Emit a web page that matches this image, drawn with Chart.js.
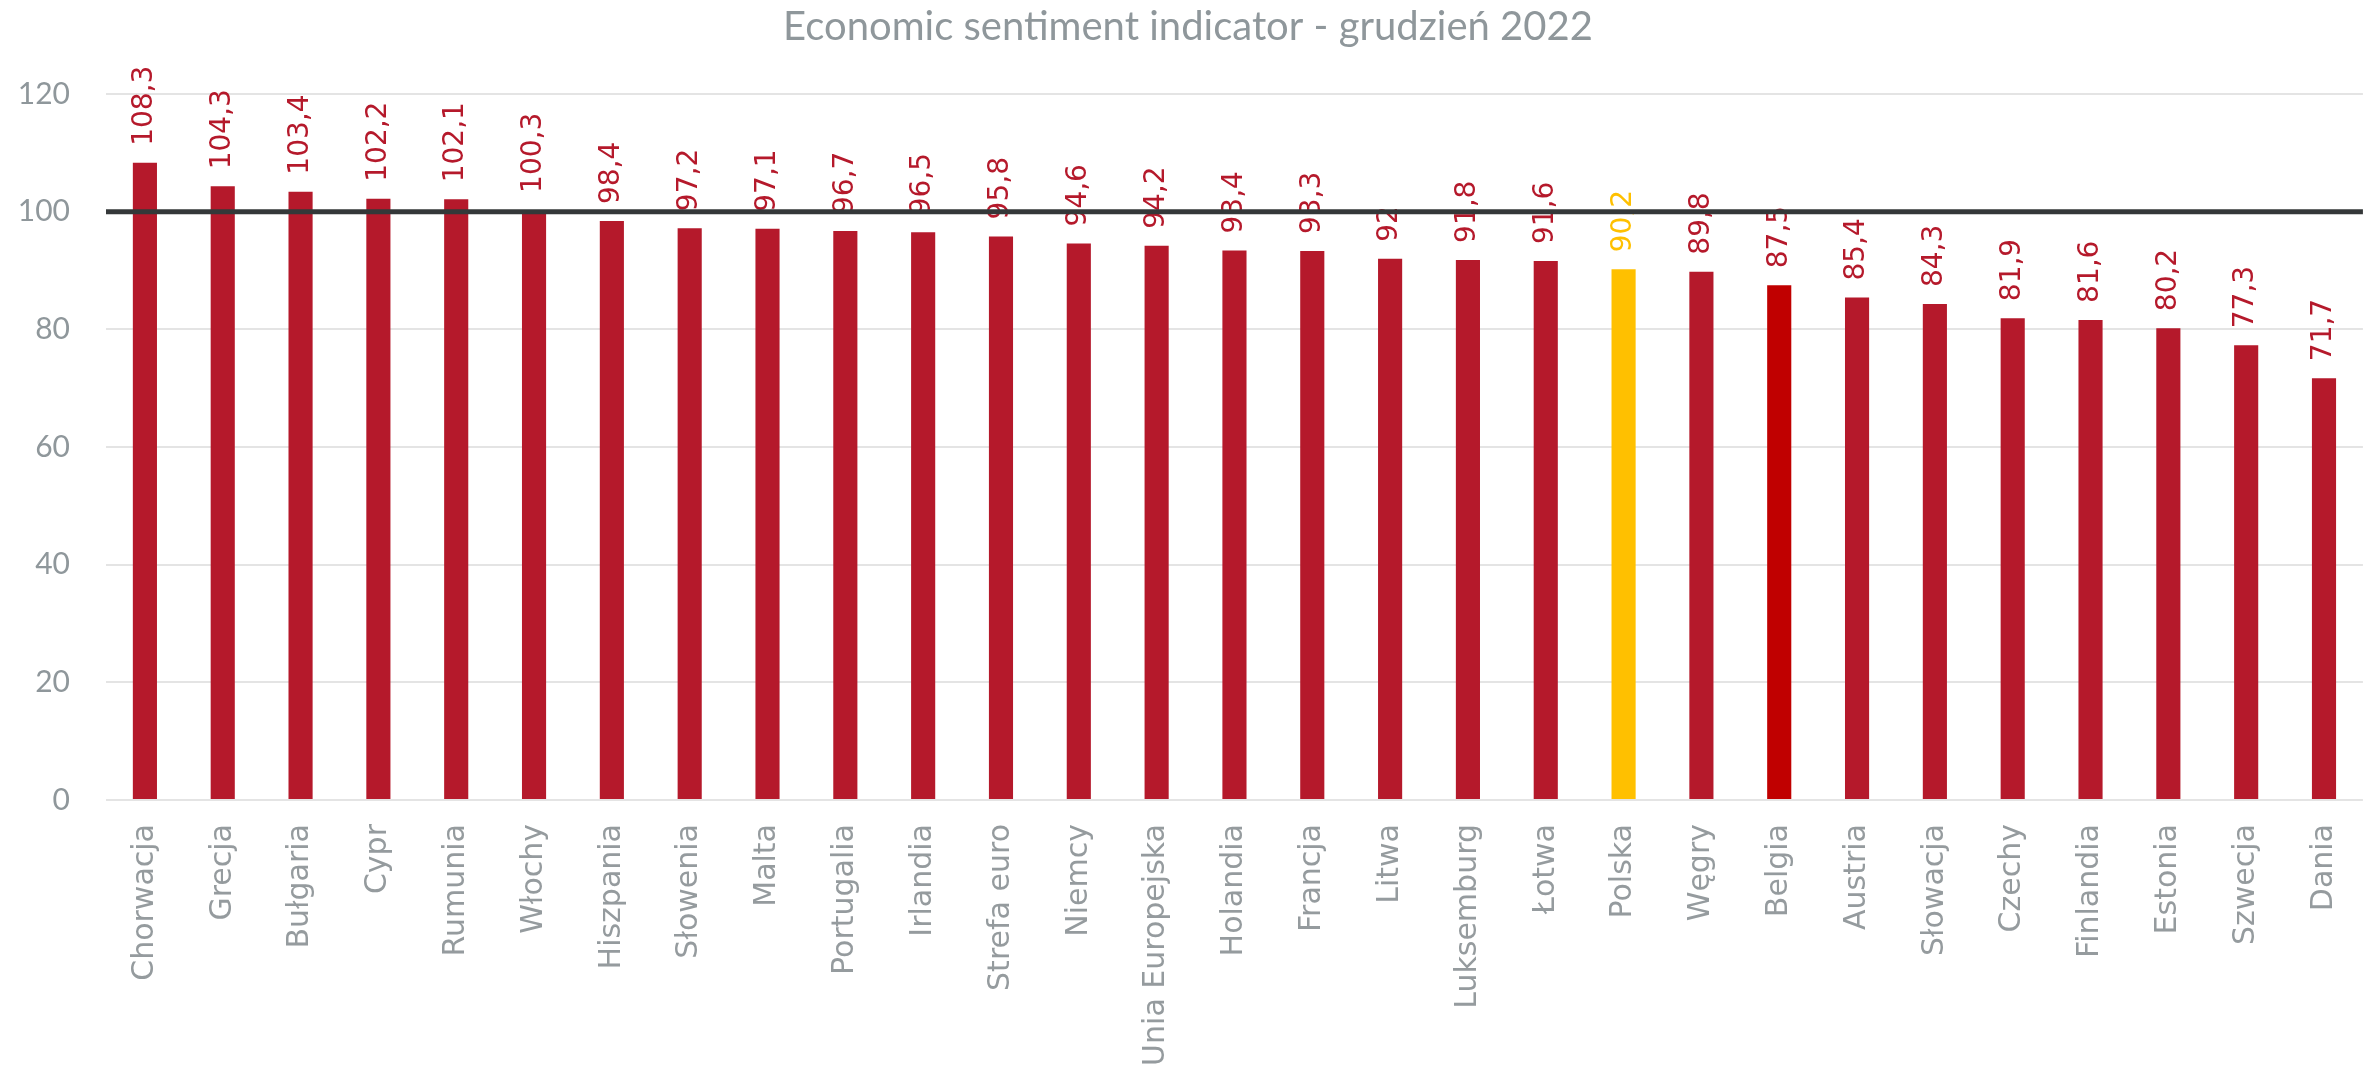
<!DOCTYPE html>
<html>
<head>
<meta charset="utf-8">
<script src="https://cdn.jsdelivr.net/npm/chart.js@4/dist/chart.umd.min.js"></script>
<style>
  html, body { margin: 0; padding: 0; background: #fff; }
  #wrap { width: 2376px; height: 1069px; }
</style>
</head>
<body>
<div id="wrap"><canvas id="esi"></canvas></div>
<script>
// country names in the order shown on the chart
var countries = ["Chorwacja", "Grecja", "Bułgaria", "Cypr", "Rumunia", "Włochy", "Hiszpania",
  "Słowenia", "Malta", "Portugalia", "Irlandia", "Strefa euro", "Niemcy", "Unia Europejska",
  "Holandia", "Francja", "Litwa", "Luksemburg", "Łotwa", "Polska", "Węgry", "Belgia",
  "Austria", "Słowacja", "Czechy", "Finlandia", "Estonia", "Szwecja", "Dania"];

// ESI values, grudzień 2022
var esiValues = [108.3, 104.3, 103.4, 102.2, 102.1, 100.3, 98.4, 97.2, 97.1, 96.7, 96.5, 95.8,
  94.6, 94.2, 93.4, 93.3, 92, 91.8, 91.6, 90.2, 89.8, 87.5, 85.4, 84.3, 81.9, 81.6, 80.2, 77.3, 71.7];

// long-term average line
var refLine = [100, 100];
var refEnds = ["start", "end"];

var yTicks = [0, 20, 40, 60, 80, 100, 120];

var RED = '#b5192b';
var barColors = countries.map(function (c) {
  if (c == "Polska") return '#ffc000';
  if (c == "Belgia") return '#c00000';
  return RED;
});
var labelColors = countries.map(function (c) {
  return c == "Polska" ? '#ffc000' : RED;
});

function plFormat(v) {
  return String(v).replace('.', ',');
}

// rotated value labels above bars (drawn before the 100 line so it covers them)
var barLabels = {
  id: 'barLabels',
  afterDatasetDraw: function (chart, args) {
    if (args.meta.type !== 'bar') return;
    var ctx = chart.ctx;
    ctx.save();
    ctx.font = '28px "DejaVu Sans"';
    ctx.textAlign = 'left';
    ctx.textBaseline = 'middle';
    args.meta.data.forEach(function (el, i) {
      ctx.save();
      ctx.translate(el.x, el.y - 17);
      ctx.rotate(-Math.PI / 2);
      ctx.fillStyle = labelColors[i];
      ctx.fillText(plFormat(esiValues[i]), 0, 0);
      ctx.restore();
    });
    ctx.restore();
  }
};

window.onload = function () {
  var ctx = document.getElementById('esi').getContext('2d');
  new Chart(ctx, {
    data: {
      labels: countries,
      datasets: [{
        type: 'line',
        data: refLine,
        xAxisID: 'x2',
        borderColor: '#343839',
        borderWidth: 5,
        pointRadius: 0,
        order: 1
      }, {
        type: 'bar',
        data: esiValues,
        backgroundColor: barColors,
        barPercentage: 0.31,
        categoryPercentage: 1,
        grouped: false,
        order: 2
      }]
    },
    options: {
      responsive: true,
      maintainAspectRatio: false,
      animation: false,
      events: [],
      layout: { padding: 0 },
      plugins: {
        legend: { display: false },
        tooltip: { enabled: false },
        title: {
          display: true,
          text: 'Economic sentiment indicator - grudzień 2022',
          color: '#8f979b',
          font: { family: 'Lato', size: 40, weight: 'normal' },
          padding: { top: 3, bottom: 43 }
        }
      },
      scales: {
        x: {
          grid: { display: false },
          border: { display: false },
          ticks: {
            color: '#959b9e',
            font: { family: 'DejaVu Sans', size: 30 },
            minRotation: 90,
            maxRotation: 90,
            padding: 16,
            autoSkip: false
          },
          afterFit: function (scale) { scale.height = 269; }
        },
        x2: {
          type: 'category',
          labels: refEnds,
          offset: false,
          display: false
        },
        y: {
          min: 0,
          max: 120,
          afterBuildTicks: function (scale) {
            scale.ticks = yTicks.map(function (v) { return { value: v }; });
          },
          grid: { color: '#e4e4e4', lineWidth: 2, drawTicks: false },
          border: { display: false },
          ticks: {
            color: '#8f979b',
            font: { family: 'Lato', size: 30 },
            padding: 36
          },
          afterFit: function (scale) { scale.width = 106; }
        }
      }
    },
    plugins: [barLabels]
  });
};
</script>
</body>
</html>
